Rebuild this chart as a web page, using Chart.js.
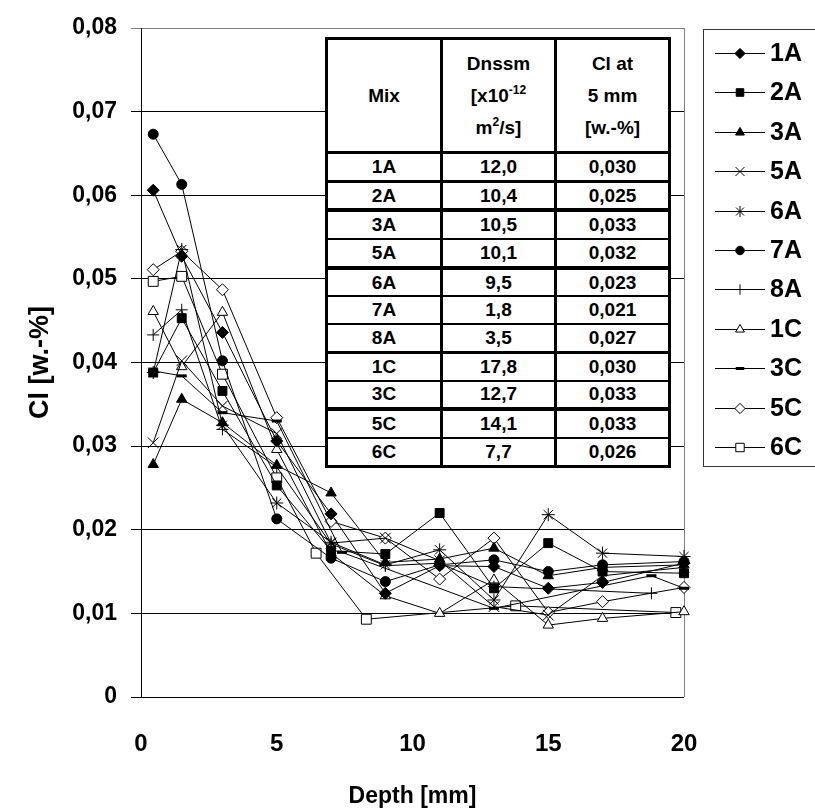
<!DOCTYPE html>
<html>
<head>
<meta charset="utf-8">
<title>Cl profiles</title>
<script src="https://cdn.jsdelivr.net/npm/chart.js@4.4.1/dist/chart.umd.min.js"></script>
<style>
  html, body { margin:0; padding:0; background:#fff; }
  #wrap { position:relative; width:815px; height:810px; overflow:hidden; background:#fff; }
  #chart { position:absolute; left:0; top:0; }
  #tbl { position:absolute; left:325px; top:37px; width:346px; height:431px; box-sizing:border-box;
         padding:3px; background:#000; display:flex; flex-direction:column;
         font-family:'Liberation Sans', Arial, sans-serif; font-weight:bold; color:#000; z-index:2; }
  .row { display:flex; flex:none; }
  .cell { background:#fff; display:flex; align-items:center; justify-content:center; text-align:center;
          font-size:19px; overflow:hidden; }
  .cell > div { display:block; text-align:center; }
  .hdr .cell > div { line-height:32px; }
  sup { font-size:12px; line-height:0; vertical-align:8px; }
</style>
</head>
<body>
<div id="wrap">
  <canvas id="chart" width="815" height="810"></canvas>
  <div id="tbl"></div>
</div>
<script>
// ---------------- data ----------------
const depthStd = [0.45, 1.5, 3, 5, 7, 9, 11, 13, 15, 17, 20];
const depth8A  = [0.45, 1.5, 3, 5, 7, 9, 11, 13, 18.8];
const depth3C  = [0.45, 1.5, 3, 5, 7.4, 13, 18.8, 20];
const depth6C  = [0.45, 1.5, 3, 5, 6.45, 8.3, 13.8, 19.7];

const cl1A = [0.0606, 0.0527, 0.0436, 0.0306, 0.0219, 0.0124, 0.0157, 0.0156, 0.0130, 0.0137, 0.0160];
const cl2A = [0.0388, 0.0453, 0.0366, 0.0253, 0.0175, 0.0171, 0.0220, 0.0130, 0.0184, 0.0150, 0.0148];
const cl3A = [0.0278, 0.0356, 0.0328, 0.0277, 0.0244, 0.0161, 0.0165, 0.0178, 0.0145, 0.0155, 0.0158];
const cl5A = [0.0304, 0.0402, 0.0348, 0.0315, 0.0184, 0.0190, 0.0163, 0.0108, 0.0098, 0.0145, 0.0155];
const cl6A = [0.0388, 0.0535, 0.0325, 0.0232, 0.0185, 0.0158, 0.0176, 0.0116, 0.0218, 0.0172, 0.0168];
const cl7A = [0.0673, 0.0613, 0.0402, 0.0213, 0.0166, 0.0138, 0.0158, 0.0164, 0.0150, 0.0158, 0.0162];
const cl8A = [0.0433, 0.0463, 0.0320, 0.0275, 0.0183, 0.0157, 0.0160, 0.0132, 0.0124];
const cl1C = [0.0461, 0.0395, 0.0460, 0.0296, 0.0172, 0.0121, 0.0100, 0.0140, 0.0086, 0.0094, 0.0102];
const cl3C = [0.0390, 0.0384, 0.0340, 0.0330, 0.0173, 0.0106, 0.0145, 0.0130];
const cl5C = [0.0511, 0.0533, 0.0487, 0.0334, 0.0210, 0.0190, 0.0141, 0.0190, 0.0101, 0.0114, 0.0131];
const cl6C = [0.0497, 0.0503, 0.0386, 0.0262, 0.0172, 0.0093, 0.0109, 0.0101];

const seriesNames = ['1A', '2A', '3A', '5A', '6A', '7A', '8A', '1C', '3C', '5C', '6C'];
const seriesDepths = [depthStd, depthStd, depthStd, depthStd, depthStd, depthStd, depth8A, depthStd, depth3C, depthStd, depth6C];
const seriesValues = [cl1A, cl2A, cl3A, cl5A, cl6A, cl7A, cl8A, cl1C, cl3C, cl5C, cl6C];

// table
const tableMix   = ['1A', '2A', '3A', '5A', '6A', '7A', '8A', '1C', '3C', '5C', '6C'];
const tableDnssm = [12.0, 10.4, 10.5, 10.1, 9.5, 1.8, 3.5, 17.8, 12.7, 14.1, 7.7];
const tableCl5mm = [0.030, 0.025, 0.033, 0.032, 0.023, 0.021, 0.027, 0.030, 0.033, 0.033, 0.026];

// ticks
const yTickValues = [0, 0.01, 0.02, 0.03, 0.04, 0.05, 0.06, 0.07, 0.08];
const yTickLabels = ['0', '0,01', '0,02', '0,03', '0,04', '0,05', '0,06', '0,07', '0,08'];
const xTickValues = [0, 5, 10, 15, 20];
const xTickLabels = ['0', '5', '10', '15', '20'];

// ---------------- styles ----------------
const FONT = "'Liberation Sans', Arial, sans-serif";
const markers = {
  '1A': { pointStyle: 'rectRot',  radius: 6,   fill: '#000', bw: 1 },
  '2A': { pointStyle: 'rect',     radius: 6.3, fill: '#000', bw: 1 },
  '3A': { pointStyle: 'triangle', radius: 6,   fill: '#000', bw: 1 },
  '5A': { pointStyle: 'crossRot', radius: 7.5, fill: '#000', bw: 1 },
  '6A': { pointStyle: 'star',     radius: 6.5, fill: '#000', bw: 1 },
  '7A': { pointStyle: 'circle',   radius: 5,   fill: '#000', bw: 1 },
  '8A': { pointStyle: 'cross',    radius: 6,   fill: '#000', bw: 1 },
  '1C': { pointStyle: 'triangle', radius: 6,   fill: '#fff', bw: 1 },
  '3C': { pointStyle: 'line',     radius: 5,   fill: '#000', bw: 3 },
  '5C': { pointStyle: 'rectRot',  radius: 6,   fill: '#fff', bw: 1 },
  '6C': { pointStyle: 'rect',     radius: 7,   fill: '#fff', bw: 1 }
};

// ---------------- table DOM ----------------
(function buildTable() {
  const rowGaps = [3, 3, 4, 2, 4, 2, 2, 3, 2, 4, 2];
  const colW = [112, 111, 111];
  const tbl = document.getElementById('tbl');
  function makeRow(cells, h, gap, cls) {
    const r = document.createElement('div');
    r.className = 'row' + (cls ? ' ' + cls : '');
    r.style.height = h + 'px';
    if (gap) r.style.marginTop = gap + 'px';
    cells.forEach((html, i) => {
      const c = document.createElement('div');
      c.className = 'cell';
      c.style.width = colW[i] + 'px';
      if (i > 0) c.style.marginLeft = '3px';
      const inner = document.createElement('div');
      inner.innerHTML = html;
      c.appendChild(inner);
      r.appendChild(c);
    });
    tbl.appendChild(r);
  }
  makeRow(['Mix', 'Dnssm<br>[x10<sup>-12</sup><br>m<sup>2</sup>/s]', 'Cl at<br>5 mm<br>[w.-%]'], 111, 0, 'hdr');
  const fmt = (v, d) => v.toFixed(d).replace('.', ',');
  tableMix.forEach((m, i) => {
    makeRow([m, fmt(tableDnssm[i], 1), fmt(tableCl5mm[i], 3)], 25.7, rowGaps[i], '');
  });
})();

// ---------------- chart ----------------
const datasets = seriesNames.map((name, i) => {
  const m = markers[name];
  return {
    label: name,
    data: seriesDepths[i].map((d, j) => ({ x: d, y: seriesValues[i][j] })),
    showLine: true,
    borderColor: '#000',
    borderWidth: 1,
    tension: 0,
    fill: false,
    clip: false,
    pointStyle: m.pointStyle,
    pointRadius: m.radius,
    pointBackgroundColor: m.fill,
    pointBorderColor: '#000',
    pointBorderWidth: m.bw
  };
});

const framePlugin = {
  id: 'frame',
  beforeDatasetsDraw(chart) {
    const { ctx, chartArea: a } = chart;
    ctx.save();
    ctx.strokeStyle = '#808080';
    ctx.lineWidth = 1;
    ctx.beginPath();
    ctx.moveTo(Math.round(a.right) + 0.5, a.top);
    ctx.lineTo(Math.round(a.right) + 0.5, a.bottom);
    ctx.stroke();
    ctx.restore();
  }
};

const legendPlugin = {
  id: 'sideLegend',
  afterDraw(chart) {
    const ctx = chart.ctx;
    const a = chart.chartArea;
    const boxL = a.right + 19, boxT = 29, boxB = 466;
    const rowY0 = 53, rowStep = 39.4;
    ctx.save();
    ctx.fillStyle = '#fff';
    ctx.fillRect(boxL, boxT, 140, boxB - boxT);
    ctx.strokeStyle = '#333';
    ctx.lineWidth = 1;
    ctx.strokeRect(boxL + 0.5, boxT + 0.5, 140, boxB - boxT);
    chart.data.datasets.forEach((ds, i) => {
      const y = Math.round(rowY0 + i * rowStep);
      ctx.strokeStyle = '#000';
      ctx.lineWidth = 1;
      ctx.beginPath();
      ctx.moveTo(boxL + 12, y + 0.5);
      ctx.lineTo(boxL + 62, y + 0.5);
      ctx.stroke();
      ctx.fillStyle = ds.pointBackgroundColor;
      ctx.strokeStyle = '#000';
      ctx.lineWidth = ds.pointBorderWidth;
      Chart.helpers.drawPoint(ctx, {
        pointStyle: ds.pointStyle, radius: ds.pointRadius * 0.85,
        borderWidth: ds.pointBorderWidth, rotation: 0
      }, boxL + 37, y + 0.5);
      ctx.fillStyle = '#000';
      ctx.font = "bold 25px " + FONT;
      ctx.textAlign = 'left';
      ctx.textBaseline = 'middle';
      ctx.fillText(ds.label, boxL + 67, y + 1);
    });
    ctx.restore();
  }
};

const yTickFont = { family: FONT, size: 23, weight: 'bold' };
const xTickFont = { family: FONT, size: 24, weight: 'bold' };
const xTitleFont = { family: FONT, size: 23, weight: 'bold' };
const yTitleFont = { family: FONT, size: 27, weight: 'bold' };

new Chart(document.getElementById('chart'), {
  type: 'scatter',
  data: { datasets },
  plugins: [framePlugin, legendPlugin],
  options: {
    responsive: false,
    animation: false,
    events: [],
    devicePixelRatio: 1,
    layout: { padding: { left: 0, right: 131, top: 28, bottom: 0 } },
    plugins: { legend: { display: false }, tooltip: { enabled: false } },
    scales: {
      x: {
        type: 'linear', position: 'bottom', min: 0, max: 20,
        afterBuildTicks: s => { s.ticks = xTickValues.map(v => ({ value: v })); },
        afterFit: s => { s.height = 113; },
        grid: { display: false, drawTicks: false },
        border: { display: false },
        ticks: {
          autoSkip: false, maxRotation: 0, minRotation: 0, padding: 33,
          color: '#000', font: xTickFont,
          callback: (v, i) => xTickLabels[i]
        },
        title: { display: true, text: 'Depth [mm]', color: '#000', font: xTitleFont, padding: { top: 0, bottom: 0 } }
      },
      y: {
        type: 'linear', position: 'left', min: 0, max: 0.08,
        afterBuildTicks: s => { s.ticks = yTickValues.map(v => ({ value: v })); },
        afterFit: s => { s.width = 141; },
        grid: {
          color: c => (c.index === yTickValues.length - 1 ? '#808080' : '#000'),
          lineWidth: 1, drawTicks: true, tickLength: 10
        },
        border: { display: true, color: '#000', width: 1 },
        ticks: {
          padding: 14, color: '#000', font: yTickFont,
          callback: (v, i) => yTickLabels[i]
        },
        title: { display: true, text: 'Cl [w.-%]', color: '#000', font: yTitleFont, padding: { top: 24, bottom: 0 } }
      }
    }
  }
});
</script>
</body>
</html>
